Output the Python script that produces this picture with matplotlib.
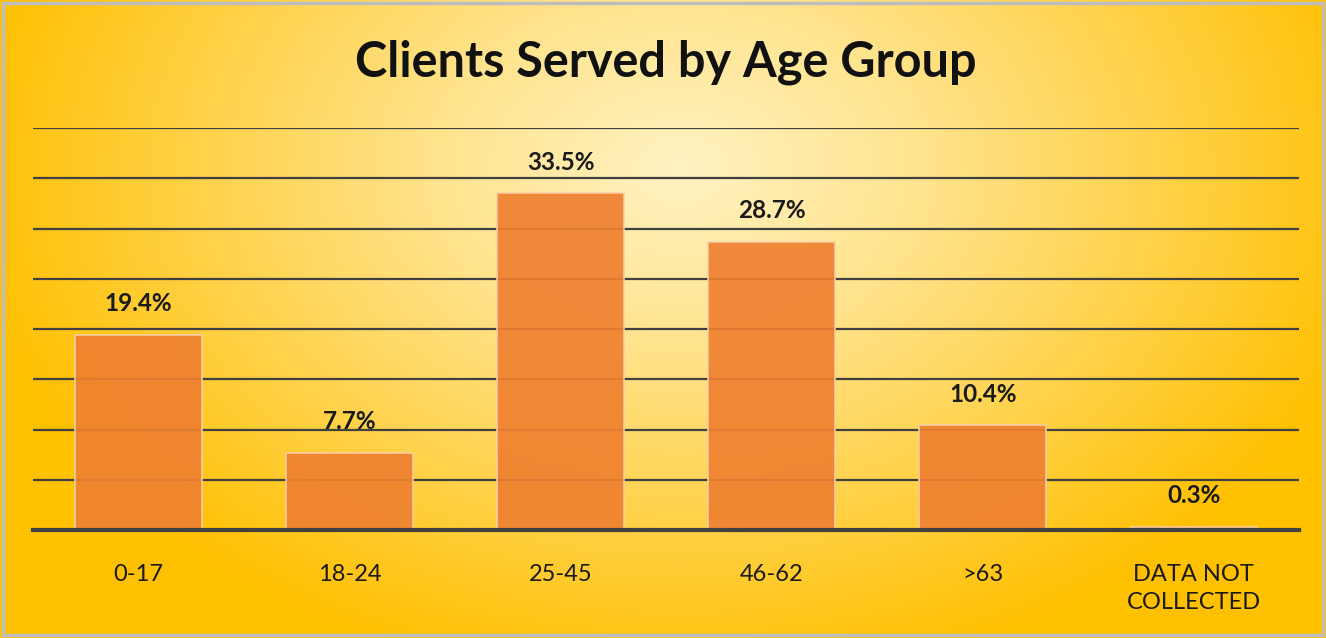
import matplotlib

matplotlib.use("Agg")
import matplotlib.pyplot as plt
import numpy as np
from matplotlib.colors import LinearSegmentedColormap
from matplotlib.patches import Rectangle

categories = ["0-17", "18-24", "25-45", "46-62", ">63", "DATA NOT\nCOLLECTED"]
shares = [19.4, 7.7, 33.5, 28.7, 10.4, 0.3]
labels = ["19.4%", "7.7%", "33.5%", "28.7%", "10.4%", "0.3%"]

FONT = ["Lato", "DejaVu Sans"]

fig = plt.figure(figsize=(13.26, 6.38), dpi=100)

# radial background, light in the middle, golden at the edges
bg = fig.add_axes([0, 0, 1, 1], zorder=0)
yy, xx = np.mgrid[0:638, 0:1326]
r = np.sqrt(((xx - 680) / 720.0) ** 2 + ((yy - 170) / 520.0) ** 2)
cmap = LinearSegmentedColormap.from_list(
    "bg", ["#FFF2C2", "#FFE48E", "#FFD24A", "#FFC000"]
)
bg.imshow(np.clip(r, 0, 1), cmap=cmap, aspect="auto", extent=[0, 1, 0, 1],
          origin="upper", interpolation="bilinear")
bg.add_patch(Rectangle((0.002, 0.004), 0.996, 0.992, transform=bg.transAxes,
                       fill=False, edgecolor="#BDBDBD", linewidth=2.5))
bg.set_axis_off()

ax = fig.add_axes([0.0249, 0.1693, 0.955, 0.630], zorder=1)
ax.patch.set_alpha(0)
x = np.arange(len(categories))
bars = ax.bar(x, shares, width=0.6, color="#EE8030", alpha=0.92,
              edgecolor="#F8D0A8", linewidth=1.2, zorder=3)
for xi, v, lab in zip(x, shares, labels):
    ax.text(xi, v + 3.1, lab, ha="center", va="center", fontsize=17.5,
            fontweight="bold", family=FONT, color="#1A1A1A", zorder=4)

ax.set_xlim(-0.5, len(categories) - 0.5)
ax.set_ylim(0, 40)
ax.set_yticks(np.arange(0, 41, 5))
ax.yaxis.grid(True, color="#404040", linewidth=1.6, zorder=1)
ax.set_axisbelow(True)
ax.tick_params(axis="y", left=False, labelleft=False)
ax.tick_params(axis="x", bottom=False, pad=21)
ax.set_xticks(x)
ax.set_xticklabels(categories, fontsize=17, family=FONT, color="#1A1A1A",
                   linespacing=1.4, va="top")
for side in ("left", "right", "top"):
    ax.spines[side].set_visible(False)
ax.spines["bottom"].set_color("#404040")
ax.spines["bottom"].set_linewidth(3)
ax.spines["bottom"].set_zorder(5)

fig.text(0.502, 0.902, "Clients Served by Age Group", ha="center", va="center",
         fontsize=35, fontweight="bold", family=FONT, color="#111111", zorder=3)

fig.savefig("out.png", dpi=100)
